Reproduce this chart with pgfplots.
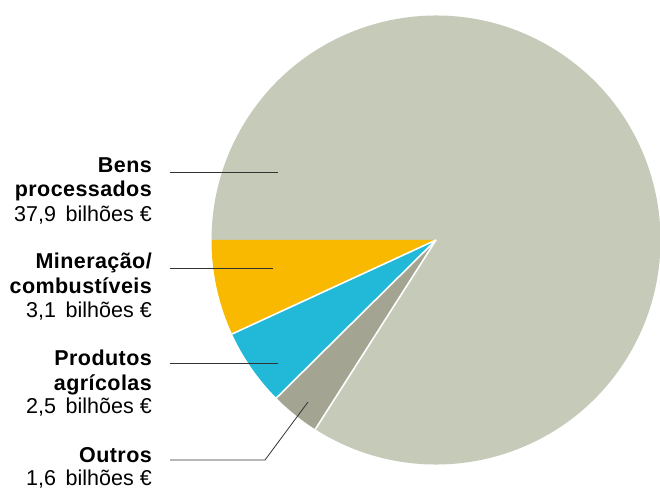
\documentclass[border=0pt]{standalone}
\usepackage{pgfplots}
\pgfplotsset{compat=1.18}
\usepackage{pgfplotstable}
\usepackage{fontspec}
\setmainfont{Liberation Sans}
\definecolor{cbens}{HTML}{C6CAB8}
\definecolor{cmin}{HTML}{F9B900}
\definecolor{cagr}{HTML}{22B9D8}
\definecolor{cout}{HTML}{A3A492}
\definecolor{cline}{HTML}{333333}

\pgfplotstableread{
value
37.9
3.1
2.5
1.6
}\pietable
\pgfplotstablegetelem{0}{value}\of\pietable \let\vA\pgfplotsretval
\pgfplotstablegetelem{1}{value}\of\pietable \let\vB\pgfplotsretval
\pgfplotstablegetelem{2}{value}\of\pietable \let\vC\pgfplotsretval
\pgfplotstablegetelem{3}{value}\of\pietable \let\vD\pgfplotsretval
\pgfmathsetmacro\total{\vA+\vB+\vC+\vD}
\pgfmathsetmacro\aB{180+360*\vB/\total}
\pgfmathsetmacro\aC{\aB+360*\vC/\total}
\pgfmathsetmacro\aD{\aC+360*\vD/\total}
\def\cx{436}
\def\cy{248}
\def\R{224.5}
\newcommand\bl[1]{{\fontsize{21.5bp}{24bp}\selectfont\bfseries\addfontfeature{LetterSpace=2}#1}}
\newcommand\rg[2]{{\fontsize{21.5bp}{24bp}\selectfont #1\hspace{0.45em}bilhões €}}

\begin{document}
\begin{tikzpicture}
\begin{axis}[
  scale only axis, width=660bp, height=488bp,
  xmin=0, xmax=660, ymin=0, ymax=488,
  enlargelimits=false, hide axis, clip=false,
]
% sectors
\fill[cbens] (axis cs:\cx,\cy) -- (axis cs:{\cx+\R*cos(\aD)},{\cy+\R*sin(\aD)}) arc[start angle=\aD, end angle=540, radius=\R bp] -- cycle;
\fill[cmin] (axis cs:\cx,\cy) -- (axis cs:{\cx-\R},\cy) arc[start angle=180, end angle=\aB, radius=\R bp] -- cycle;
\fill[cagr] (axis cs:\cx,\cy) -- (axis cs:{\cx+\R*cos(\aB)},{\cy+\R*sin(\aB)}) arc[start angle=\aB, end angle=\aC, radius=\R bp] -- cycle;
\fill[cout] (axis cs:\cx,\cy) -- (axis cs:{\cx+\R*cos(\aC)},{\cy+\R*sin(\aC)}) arc[start angle=\aC, end angle=\aD, radius=\R bp] -- cycle;
% separators
\draw[white, line width=1.6pt] (axis cs:\cx,\cy) -- (axis cs:{\cx+\R*cos(\aB)},{\cy+\R*sin(\aB)});
\draw[white, line width=1.6pt] (axis cs:\cx,\cy) -- (axis cs:{\cx+\R*cos(\aC)},{\cy+\R*sin(\aC)});
\draw[white, line width=1.6pt] (axis cs:\cx,\cy) -- (axis cs:{\cx+\R*cos(\aD)},{\cy+\R*sin(\aD)});
% leader lines
\draw[cline, line width=0.8pt] (axis cs:170,316) -- (axis cs:278,316);
\draw[cline, line width=0.8pt] (axis cs:170,220) -- (axis cs:273,220);
\draw[cline, line width=0.8pt] (axis cs:170,125) -- (axis cs:278,125);
\draw[cline, line width=0.8pt] (axis cs:170,28) -- (axis cs:265,28) -- (axis cs:308,86);
% labels
\tikzset{lab/.style={anchor=base east, inner sep=0pt}}
\node[lab] at (axis cs:152,315) {\bl{Bens}};
\node[lab] at (axis cs:152,291) {\bl{processados}};
\node[lab] at (axis cs:152,266) {\rg{37,9}{}};
\node[lab] at (axis cs:152,220) {\bl{Mineração/}};
\node[lab] at (axis cs:152,195) {\bl{combustíveis}};
\node[lab] at (axis cs:152,171) {\rg{3,1}{}};
\node[lab] at (axis cs:152,123) {\bl{Produtos}};
\node[lab] at (axis cs:152,98) {\bl{agrícolas}};
\node[lab] at (axis cs:152,75) {\rg{2,5}{}};
\node[lab] at (axis cs:152,26) {\bl{Outros}};
\node[lab] at (axis cs:152,3) {\rg{1,6}{}};
\end{axis}
\pgfresetboundingbox
\path[use as bounding box] (current axis.south west) rectangle (current axis.north east);
\end{tikzpicture}
\end{document}
